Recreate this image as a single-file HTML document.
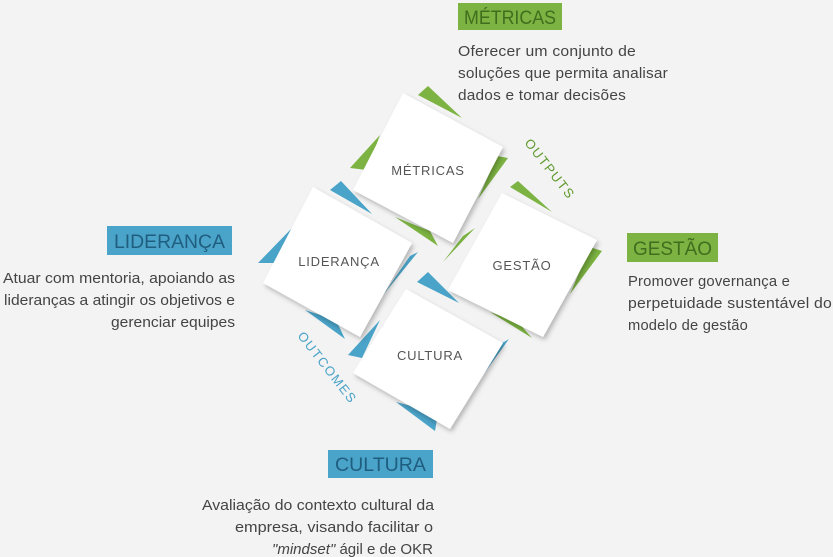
<!DOCTYPE html>
<html><head><meta charset="utf-8"><style>
html,body{margin:0;padding:0;background:#f3f3f3;}
svg{display:block;font-family:"Liberation Sans",sans-serif;}
</style></head><body>
<svg width="833" height="557" viewBox="0 0 833 557" xmlns="http://www.w3.org/2000/svg">
<defs>
<filter id="sh" x="-20%" y="-20%" width="140%" height="140%"><feDropShadow dx="2" dy="3" stdDeviation="2.5" flood-color="#000" flood-opacity="0.25"/></filter>
</defs>
<rect width="833" height="557" fill="#f3f3f3"/>

<g fill="#7cb342">
<polygon points="418,95 428,86 462,118"/>
<polygon points="350,168 380,135 367,170"/>
<polygon points="478,199 508,158 497,156"/>
<polygon points="395,217 438,246 430,231"/>
<polygon points="510,187 518,181 552,212"/>
<polygon points="443,262 475,228 463,236"/>
<polygon points="570,294 602,251 590,247"/>
<polygon points="490,312 532,338 518,322"/>
</g>
<g fill="#4aa3c8">
<polygon points="330,190 341,181 372,214"/>
<polygon points="258,263 292,228 282,263"/>
<polygon points="383,295 418,252 410,256"/>
<polygon points="305,310 345,339 336,320"/>
<polygon points="417,282 428,272 459,303"/>
<polygon points="348,355 380,320 362,358"/>
<polygon points="478,382 509,339 497,346"/>
<polygon points="396,402 435,431 438,413"/>
</g>

<g fill="#fff" filter="url(#sh)">
<polygon points="403,93 503,147 453,243 353,190"/>
<polygon points="502,193 597,240 543,337 448,290"/>
<polygon points="313,187 412,243 360,337 263,283"/>
<polygon points="406,289 503,343 450,429 353,373"/>
</g>
<g fill="#555" font-size="13" text-anchor="middle" letter-spacing="0.8">
<text x="428" y="175">MÉTRICAS</text>
<text x="522" y="270">GESTÃO</text>
<text x="339" y="266">LIDERANÇA</text>
<text x="430" y="360">CULTURA</text>
</g>
<text x="0" y="0" font-size="13" fill="#5f9a2e" transform="translate(524,143) rotate(52)" letter-spacing="1.5">OUTPUTS</text>
<text x="0" y="0" font-size="13" fill="#4aa3c8" transform="translate(297,336) rotate(52)" letter-spacing="1.5">OUTCOMES</text>

<rect x="458" y="3" width="104" height="27" fill="#7cb342"/>
<text x="464" y="24" font-size="19" fill="#3f6e1e" textLength="92" lengthAdjust="spacingAndGlyphs">MÉTRICAS</text>
<rect x="107" y="226" width="125" height="29" fill="#4aa3c8"/>
<text x="114" y="248" font-size="19" fill="#1f5e80" textLength="111" lengthAdjust="spacingAndGlyphs">LIDERANÇA</text>
<rect x="627" y="233" width="91" height="29" fill="#7cb342"/>
<text x="633" y="255" font-size="19" fill="#3f6e1e" textLength="79" lengthAdjust="spacingAndGlyphs">GESTÃO</text>
<rect x="328" y="450" width="105" height="28" fill="#4aa3c8"/>
<text x="335" y="471" font-size="19" fill="#1f5e80" textLength="91" lengthAdjust="spacingAndGlyphs">CULTURA</text>

<g font-size="15" fill="#444" letter-spacing="0.2">
<text x="458" y="56" textLength="178" lengthAdjust="spacingAndGlyphs">Oferecer um conjunto de</text>
<text x="458" y="78" textLength="210" lengthAdjust="spacingAndGlyphs">soluções que permita analisar</text>
<text x="458" y="100" textLength="168" lengthAdjust="spacingAndGlyphs">dados e tomar decisões</text>
<text x="628" y="286" textLength="162" lengthAdjust="spacingAndGlyphs">Promover governança e</text>
<text x="628" y="308" textLength="204" lengthAdjust="spacingAndGlyphs">perpetuidade sustentável do</text>
<text x="628" y="330" textLength="120" lengthAdjust="spacingAndGlyphs">modelo de gestão</text>
</g>
<g font-size="15" fill="#444">
<text x="3" y="283" textLength="232" lengthAdjust="spacingAndGlyphs">Atuar com mentoria, apoiando as</text>
<text x="4" y="305" textLength="231" lengthAdjust="spacingAndGlyphs">lideranças a atingir os objetivos e</text>
<text x="111" y="327" textLength="124" lengthAdjust="spacingAndGlyphs">gerenciar equipes</text>
<text x="202" y="510" textLength="232" lengthAdjust="spacingAndGlyphs">Avaliação do contexto cultural da</text>
<text x="235" y="532" textLength="198" lengthAdjust="spacingAndGlyphs">empresa, visando facilitar o</text>
<text x="272" y="554" textLength="161" lengthAdjust="spacingAndGlyphs"><tspan font-style="italic">"mindset"</tspan> ágil e de OKR</text>
</g>
</svg>
</body></html>
